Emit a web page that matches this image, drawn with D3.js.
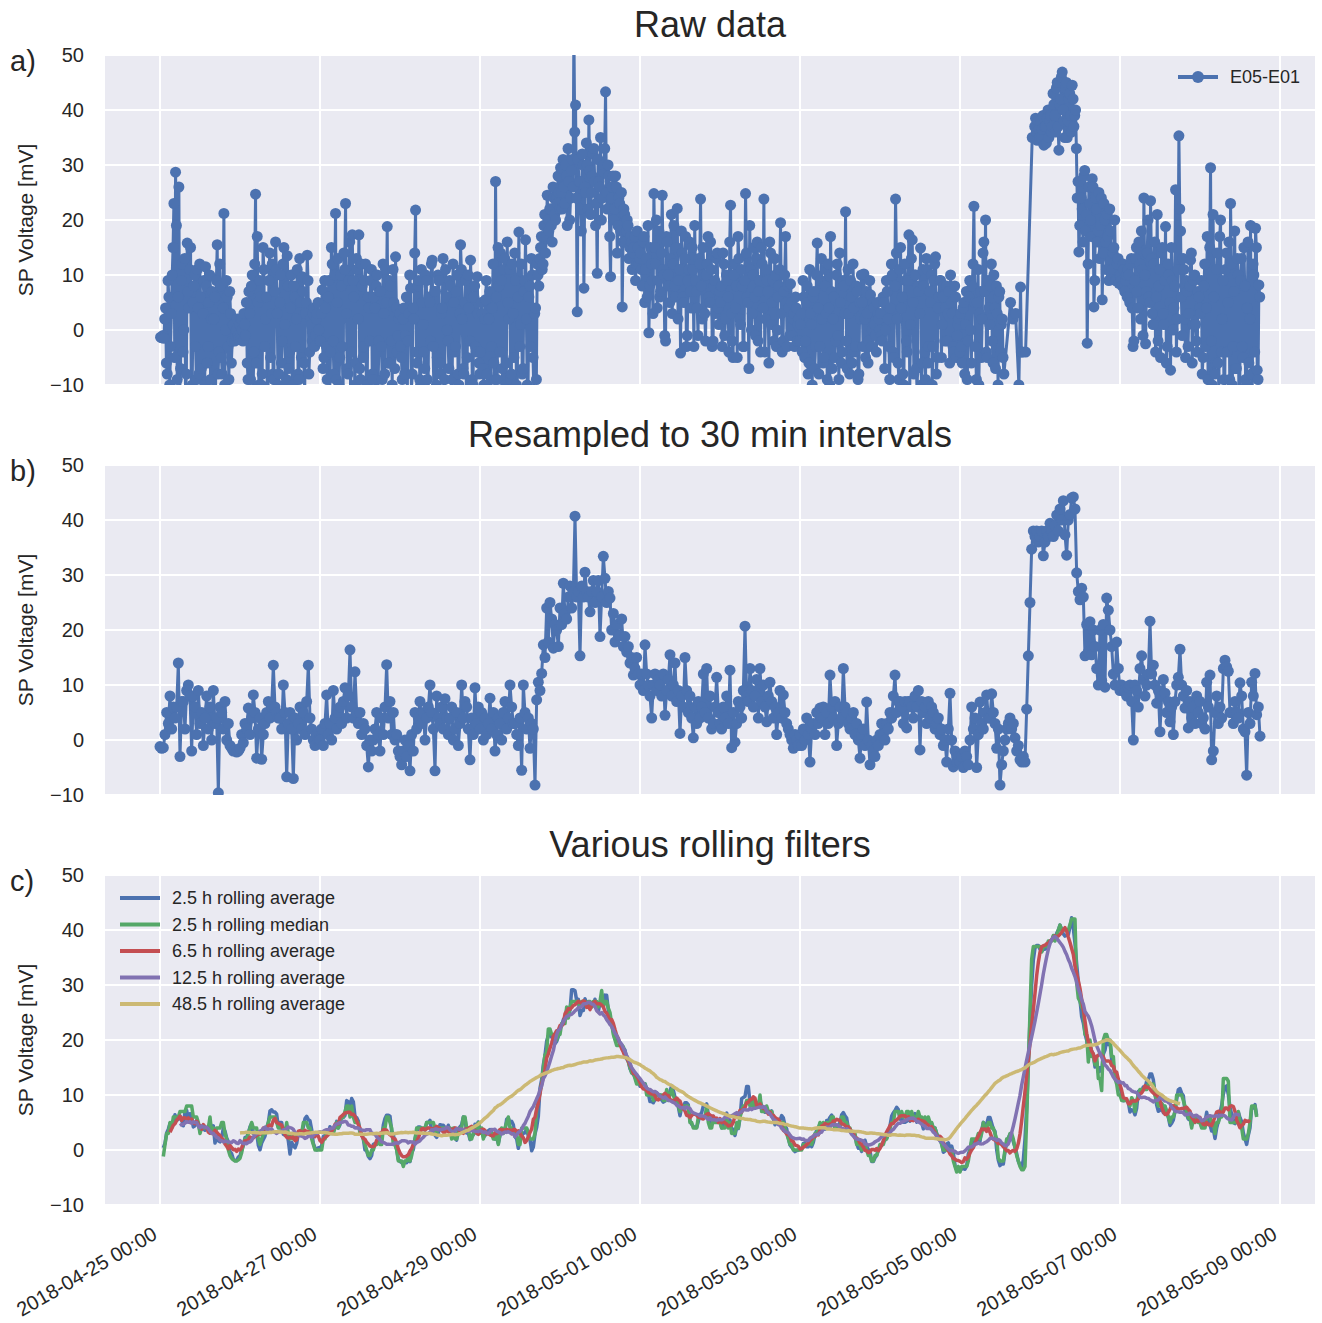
<!DOCTYPE html>
<html>
<head>
<meta charset="utf-8">
<script src="https://cdn.jsdelivr.net/npm/d3@7"></script>
<style>
  body { margin: 0; background: #fff; }
  text { font-family: "Liberation Sans", Arial, sans-serif; fill: #262626; }
</style>
</head>
<body>
<div id="chart"></div>
<script>
const svgWidth = 1322;
const svgHeight = 1323;
const margin = { left: 105, right: 7 };
const plotWidth = svgWidth - margin.left - margin.right;
const panelHeight = 330;
const panelTops = [55, 465, 875];

// chart text
const panelTitles = ["Raw data", "Resampled to 30 min intervals", "Various rolling filters"];
const panelLetters = ["a)", "b)", "c)"];
const yLabel = "SP Voltage [mV]";
const seriesName = "E05-E01";
const yTicks = [-10, 0, 10, 20, 30, 40, 50];
const xTickDates = ["2018-04-25", "2018-04-27", "2018-04-29", "2018-05-01",
  "2018-05-03", "2018-05-05", "2018-05-07", "2018-05-09"];

// raw logger readings at :10 / :40 (null = no reading)
const rawStart = "2018-04-25T00:10:00Z";
const rawValues = [
  -1.3,-1.2,-1.5,4,-8,6,-3,10,23,28.7, -9,26,-7,12,0,-12,15.8,4,15,-10, 8,-3,11,-8,6,-14,9,11.5,-6,5, -9,7,2,-11,15.5,-4,8,-8,21.2,0, 6,-9,3,-2,1,-1,2,-1.5,
  -1.8,0,3,-1,-6,7,-9,10,-4,24.7, 17,-10,6,-8,11,2,-11,9,-5,12, -9,16,3,-8,10,-2,15,-10,13.5,-7, 4,-12,8,-3,11,-9,5,9.7,-6,3, 13.6,-8,2,-2,4,-1,3,0,
  -2,7.3,-5,4,-9,9,-4,12,-8,21.2, 5,-10,10,-3,14,23,-7,9,-11,17.3, 6,-6,11,17.3,-9,8,-3,12,-10,4, 9,-8,6,-12,10,-2,7,-9,3,11, 18.8,-6,8,-10,5,13.3,-4,2,
  -3,-9,4,-1,-12,3,7.6,-8,2,21.8, -6,9,-10,5,-4,10,-9,6,-2,12.7, -11,7,-5,9,-8,4,-13,11,0,-7, 8,-9,5,-3,10,-10,15.5,2,-8,9, -5,4,12.7,-9,6,-3,9.7,-6,
  -4,3,-10,5.5,-8,2,-12,4,-6,27, -9,8,14,-7,11,-10,16,2,-9,12, -5,9,-11,17.8,1,-8,7,16.4,-10,6, -3,10,-12,4,12,8,15,11,19,14, 24.5,18,22,16,24,20,23,25,
  29.5,22,26,30,19,27,24,31,55,40.9, 3.3,27,22,32,7.6,25,30,38.2,21,28, 33,19,10.3,27,35,24,30,43.3,22,28, 9.7,26,20,28,14,24,18,4.2,22,16, 20,13,17,11,15,9,18,12,
  14,8,17,11,6,-0.5,15,9,24.8,12, 4,18,7,24.5,10,-2,16,8,13,3, 19,6,22.1,9,-4.2,14,5,17,-1,11, 7,15,-3,9,4,13,23.8,2,10,-2, 12,6,16,-3,8,3,14,1,
  5,-3,12,2,9,-4,22.7,-2,10,4, -5,13,1,8,-3,24.8,6,-7,11,3, 15,-1,16,7,-4,12,23.8,2,9,-6, 14,5,-2,10,0,8,19.5,-4,7,17, -3,4,8.4,-1,3,6,-2,2,
  1,-4,6,-2,8,-6,3,-10,7,-3, 15.8,-8,9,2,-5,11,-9,4,17,-7, 6,-2,12,-9,5,-4,8,21.5,-7,3, 9,-6,4,-3,7,-8,2,5,10.2,-5, 3,-2,6.4,0,4,-1,5,2,
  3,-2,5,0,7,-3,4,10,-5,23.8, 2,-9,15,6,-10,9,-4,17.3,1,16.4, -8,10,-12,7,14.9,-6,8,-9,11,-3, 5,-10,9,13.3,-5,6,9,1,8,4, -2,7,10,3,-4,6,-1,2,
  3,-6,5,1,-9,6,0,8,22.5,-3, 5,-10,7,2,16,20,-5,4,8,-2, 10,-7,3,6,-4,2,-8,null,null,null, 5,null,null,3,null,-10,7.8,-4,null,-4, null,null,null,35,null,38.5,34.5,36.5,
  38,36.5,33.6,37,38.5,35,39,37,41,36, 45,32.7,42,46.9,38,44,35,42,39,44.5, 37,40,24,14.2,27,22,28,18,-2.4,26, 20,27.5,4.2,24,16,25,19,5.5,23,16, 21,9,18,11,15,9,12,8.5,
  10,8,11,9,6,10,12,4,-2,13, 7,16,2,11,24,-2.5,14,6,23.5,3, 12,-4,21,8,-5,15,1,18.8,-3,10, -7.3,9,4,25.5,2,35.3,18,-1,11,-5, 7,3,12.7,-6,9,1,-4,6,
  3,-8,8,-3,17,-12,29.5,-10,6,-6, 14,-11,20,2,-9,11,-4,16,23,-10, 7,-7,13,-12,9,-3,15,-9,4,-6, 19,-11,10,18.5,-7.3,8.2
];

// raw logger readings at :25 / :55 (null = no reading)
const rawValuesLate = [
  -1.4,-1,2,-6,9,-10,3,15,-5,19, 6,-11,9,-4,13,-8,7,11,-12,5, 10,-9,4,12,-7,3,-10,8,-3,10, 2,-12,6,9,-8,12,-5,4,-10,9, -3,7,-6,1,-2,0,-1,1,
  2,-2,1,5,-9,3,8,-11,12,-6, 5,9,-10,15,-3,6,-12,14,3,-8, 7,11,-10,5,-6,12,1,-9,8,-4, 10,-10,6,2,-8,13,-5,7,-11,5, 9,-4,1,3,-3,2,5,-2,
  3,-7,9,-3,6,-11,15,-2,10,-9, 13,-5,8,-12,11,3,-8,16,-4,9, -10,13,2,-7,12,-5,9,-13,6,-2, 11,-9,4,8,-11,7,-3,12,-8,5, -6,9,-2,11,-7,4,-1,3,
  -5,2,-8,6,-2,10,-11,4,14,-4, 8,-9,11,1,-7,9,-12,5,12,-3, 7,-10,10,-6,3,13,-9,6,-2,9, -11,12,-4,7,-8,3,11,-7,5,-13, 10,-2,6,-10,8,-4,3,-8,
  5,-7,2,9,-11,7,-3,12,-9,6, 15,-4,9,-11,13,-6,5,11,-8,3, 14,-10,6,-3,12,-7,9,2,-11,8, 13,-5,3,-9,10,13,17,12,21,17, 20,22,19,26,21,24,28,22,
  25,31,23,28,33,20,29,26,36,24, 31,27,18,30,26,34,22,29,25,32, 27,23,31,26,20,29,33,25,30,17, 24,28,22,26,19,23,25,16,21,18, 19,15,16,14,17,12,15,13,
  11,16,5,13,19,8,12,3,15,20, 9,6,14,11,-1,17,10,5,21,12, 8,15,2,11,18,6,13,-3,9,16, 4,11,19,7,-1,12,8,15,3,10, 17,5,11,-2,9,13,4,7,
  8,14,-1,10,6,16,3,-5,12,8, 17,2,11,-3,9,14,5,19,0,10, 6,13,-2,9,15,4,-4,11,7,16, 1,9,13,-3,6,11,3,-2,10,5, 8,-1,5,2,-3,4,1,-2,
  3,9,-5,5,-8,11,1,6,-7,10, 4,-3,13,-6,8,3,12,-10,7,2, -5,10,-1,14,-6,9,3,-2,11,-8, 6,12,-4,8,-9,5,10,-3,2,7, -6,9,-3,5,1,-4,3,0,
  -1,6,-7,9,2,-9,12,-4,8,14, -6,11,4,-8,12,-2,9,-11,13,5, 10,-7,8,3,-10,11,-4,13,-6,7, 10,-3,12,-8,4,9,-5,6,-2,8, 3,-6,5,-3,8,-5,1,-4,
  -3,4,-8,7,-2,9,-6,12,5,-9, 11,3,-5,14,7,-4,9,1,12,-6, 4,8,-10,7,1,-5,null,null,null,null, null,2,null,null,null,null,-4,null,null,null, null,null,null,null,37,36,38,35,
  35,39,37,34,40,38,36,43,39,44, 37,41,46,40,35,45,38,43,36,42, 39,33,27,19,24,16,29,21,12,23, 17,26,9,22,18,13,24,14,20,11, 17,22,10,14,20,9,13,10,
  9,12,7,10,11,5,13,-3,9,15, 4,12,18,-1,10,7,20,5,13,1, 16,6,-2,11,14,3,9,-6,12,5, 15,0,8,-4,11,22,6,13,2,9, -3,8,14,1,10,-2,7,4,
  9,-5,12,4,-9,15,-2,21,-8,11, -6,17,-4,9,-11,14,5,-9,12,-3, 18,-7,10,-12,13,-5,8,-10,16,2, -8,12,-4,15,-9,6
];

// 30 min resampled series
const resampledStart = "2018-04-25T00:00:00Z";
const stepMinutes = 30;
const resampledValues = [
  -1.2,-1.5,-1.4,1,5,3,8,2,6,4, 6,14,-3,7,7,2,9,10,8,-2, 8,6,1,9,3,5,-1,4,8,2, 6,0,9,3,4,-9.6,6,5,2,7, 0,3,-1,-1.5,-2,-1.8,-2.2,-2,
  -1.5,1,-0.5,3,2,5.8,1,4,8.2,5, -3.3,2,4,-3.5,1,3,5,7,4,6, 13.6,6,5,4,4,2,10,5,-6.7,3, 5,2,-7,4,0,3,6,2,5,1, 7,13.6,4,2,0,-1,1,0,
  0,2,-1,3,8.2,1,3,0,9,4, 2,5,6,3,7,9.5,4,8,16.4,6, 4,12.4,5,3,5,1,3,2,-1,-4.9, 0,-2,0,2,5,1,-2,4,1,6, 13.7,4,7,1,5,0,1,-2,
  -3,-4.5,-2,0,-3,-1,-5.6,1,-2,5, 2,4,7,3,5,0,4,6,10,5, 2,-5.6,8,4,3,6,2,7.5,4,1, 4,6,0,2,5,-1,3,10,4,7, 6,2,-3.6,4,1,9.5,3,6,
  2,5,0,4,1,3,7.6,2,5,-2, 1,4,3,0,5,7,2,4,10,6, 3,3,1,-1,4,-5.5,10,5,2,4, -1.5,3,2,-8.2,7.3,10.5,9,12.1,17.3,15, 24,17.8,25,22,16.7,21,20,17,
  24,21,28.5,23,22,26,28,24,27,40.7, 26,27,15.3,28,26,30.5,27,26,23.3,27, 29,25,27,29,18.8,26,33.4,29.4,25,27, 25.8,20,23,17.8,21,19,19,22,17,18.8, 16,17,14,15,11.8,13,15,12,
  10,12,9,17.3,12,10,8,4,10,12, 9,11,10,8,12,4.5,9,11,15.5,8, 10,14,7,9,1.2,8,6,15,9,5, 8,4,0.4,6,3,7,4,6,12,5, 13,4,8,2,3,6,11.4,5,
  3,2,6,4,8,3,12.7,-1.4,5,-0.4, 3,7,6,4,9,20.7,8,7,13,9, 6,8,11,4,13,7,10,6,3.3,8, 10.5,7,4,6,1,5,9,4,8.2,5, 3,2,1,0,-1.5,1,0,-1,
  1,-1,2,0,4,1,-4,2,3,1, 5,3,5.8,4,6,1,5,3,11.8,6, 4,7,-1,3,6,4,13,6,5,3, 2,4,5,1,3,0,-3.3,1,2,-1, 6.9,0,-4.5,-1,-2,-3,0,-1,
  1,3,1,0,3,2,5,4,8,11.8, 5,7,7,6,3,7,2.2,7,7,6, 4,8,6,9,-1.8,7,5,6,3,7, 4,6,5,2,3,4,1,2,-1,0, -4,2,8.5,0,-4.9,-2,-4,-3,
  -4,-3,-5,-2,-3,-4.5,0,6,2,4, -5,1,6.9,3,2,5,8.2,4,4,8.4, 5,3,-1.5,2,-8.2,-4.5,-2,0,2,3, 4,2,3,0.4,-2,-1,-3.6,-4,-3,-4, 5.6,15.3,25,34.7,38,37,38,36,
  37,38,33.5,36,38,37,39.4,38,37,39, 40.9,38,42,40,43.5,37.3,33.6,40,41,44, 44.2,42,30.4,27,25.5,27.6,26,15.3,21,16, 21.5,15.5,20,17,13,10,20,10.8,21,9.6, 25.8,23.6,20,17,12,10,17.8,13,
  9,10,9,8.7,8,9.5,10,7,0,10, 9,6,13,15.3,11,8,10,12,21.6,12, 13.6,10,6.7,9,1.5,8,11,8.5,5,7, 3.3,6,1,7,10,11.4,16.5,10,8,5.8, 9,2.2,7,4,6,3,8,5,
  7,3,4,2,10.5,6,11.8,-3.6,-2,5, 8,3,6,4,13,14.5,13.3,12.5,5,5, 3,7,5,4,10.4,8,2,1.5,-6.4,5, 3,10.5,8,12.1,4.6,6,0.7
];

// rolling filters (window in 30 min samples, centred)
const filterLabels = ["2.5 h rolling average", "2.5 h rolling median", "6.5 h rolling average",
  "12.5 h rolling average", "48.5 h rolling average"];
const filterWindows = [5, 5, 13, 25, 97];
const filterKinds = ["mean", "median", "mean", "mean", "mean"];
const filterColors = ["#4C72B0", "#55A868", "#C44E52", "#8172B2", "#CCB974"];
const seriesColor = "#4C72B0";

const stepMs = stepMinutes * 60 * 1000;
const rawT0 = Date.parse(rawStart);
const rawPoints = rawValues
  .flatMap((v, i) => [
    { t: new Date(rawT0 + i * stepMs), v: v },
    { t: new Date(rawT0 + i * stepMs + stepMs / 2), v: rawValuesLate[i] }
  ])
  .filter(d => d.v !== null && d.v !== undefined);
const resampledPoints = resampledValues
  .map((v, i) => ({ t: new Date(Date.parse(resampledStart) + i * stepMs), v: v }));

function rollingFilter(values, w, kind) {
  const h = (w - 1) / 2;
  return values.map((v, i) => {
    if (i - h < 0 || i + h >= values.length) return null;
    const win = values.slice(i - h, i + h + 1);
    return kind === "median" ? d3.median(win) : d3.mean(win);
  });
}

const svg = d3.select("#chart")
  .append("svg")
  .attr("width", svgWidth)
  .attr("height", svgHeight);

svg.append("rect").attr("width", svgWidth).attr("height", svgHeight).attr("fill", "#fff");

const x = d3.scaleUtc()
  .domain([new Date("2018-04-24T07:30:00Z"), new Date("2018-05-09T10:30:00Z")])
  .range([0, plotWidth]);

const y = d3.scaleLinear()
  .domain([-10, 50])
  .range([panelHeight, 0]);

const tickDates = xTickDates.map(s => new Date(s + "T00:00:00Z"));

const line = d3.line()
  .defined(d => d.v !== null)
  .x(d => x(d.t))
  .y(d => y(d.v));

// one panel: background, grid, y axis, titles
function drawPanel(idx) {
  const top = panelTops[idx];
  const g = svg.append("g").attr("transform", `translate(${margin.left}, ${top})`);

  svg.append("clipPath").attr("id", `clip${idx}`)
    .append("rect").attr("width", plotWidth).attr("height", panelHeight);

  g.append("rect")
    .attr("width", plotWidth)
    .attr("height", panelHeight)
    .attr("fill", "#EAEAF2");

  g.selectAll(".hgrid")
    .data(yTicks)
    .enter()
    .append("line")
    .attr("x1", 0).attr("x2", plotWidth)
    .attr("y1", d => y(d)).attr("y2", d => y(d))
    .attr("stroke", "#fff").attr("stroke-width", 2);

  g.selectAll(".vgrid")
    .data(tickDates.filter(d => x(d) <= plotWidth))
    .enter()
    .append("line")
    .attr("x1", d => x(d)).attr("x2", d => x(d))
    .attr("y1", 0).attr("y2", panelHeight)
    .attr("stroke", "#fff").attr("stroke-width", 2);

  const leftAxis = d3.axisLeft(y).tickValues(yTicks).tickSize(0).tickPadding(21);
  const ya = g.append("g").call(leftAxis);
  ya.select(".domain").remove();
  ya.selectAll("text").attr("font-size", "20px").attr("fill", "#262626")
    .style("font-family", "'Liberation Sans', Arial, sans-serif");

  svg.append("text")
    .attr("x", margin.left + plotWidth / 2)
    .attr("y", top - 18)
    .attr("text-anchor", "middle")
    .attr("font-size", "36px")
    .text(panelTitles[idx]);

  svg.append("text")
    .attr("x", 10)
    .attr("y", top + 16)
    .attr("font-size", "29px")
    .text(panelLetters[idx]);

  svg.append("text")
    .attr("transform", `translate(33, ${top + panelHeight / 2}) rotate(-90)`)
    .attr("text-anchor", "middle")
    .attr("font-size", "21px")
    .text(yLabel);

  const plot = g.append("g").attr("clip-path", `url(#clip${idx})`);
  return { g, plot };
}

// a) raw data
const pa = drawPanel(0);
pa.plot.append("path")
  .datum(rawPoints)
  .attr("d", line)
  .attr("fill", "none")
  .attr("stroke", seriesColor)
  .attr("stroke-width", 3)
  .attr("stroke-linejoin", "round");
pa.plot.selectAll("circle")
  .data(rawPoints)
  .enter()
  .append("circle")
  .attr("cx", d => x(d.t))
  .attr("cy", d => y(d.v))
  .attr("r", 5.5)
  .attr("fill", seriesColor);

const legA = svg.append("g").attr("transform", "translate(1178, 77)");
legA.append("line").attr("x1", 0).attr("x2", 40)
  .attr("stroke", seriesColor).attr("stroke-width", 4);
legA.append("circle").attr("cx", 20).attr("r", 6).attr("fill", seriesColor);
legA.append("text").attr("x", 52).attr("dy", "0.35em").attr("font-size", "18px").text(seriesName);

// b) resampled
const pb = drawPanel(1);
pb.plot.append("path")
  .datum(resampledPoints)
  .attr("d", line)
  .attr("fill", "none")
  .attr("stroke", seriesColor)
  .attr("stroke-width", 3)
  .attr("stroke-linejoin", "round");
pb.plot.selectAll("circle")
  .data(resampledPoints)
  .enter()
  .append("circle")
  .attr("cx", d => x(d.t))
  .attr("cy", d => y(d.v))
  .attr("r", 5.5)
  .attr("fill", seriesColor);

// c) rolling filters
const pc = drawPanel(2);
filterLabels.forEach((label, k) => {
  const vals = rollingFilter(resampledValues, filterWindows[k], filterKinds[k]);
  const pts = vals.map((v, i) => ({ t: resampledPoints[i].t, v: v }));
  pc.plot.append("path")
    .datum(pts)
    .attr("d", line)
    .attr("fill", "none")
    .attr("stroke", filterColors[k])
    .attr("stroke-width", 3.5)
    .attr("stroke-linejoin", "round");
});

const legC = svg.append("g").attr("transform", "translate(120, 898)");
filterLabels.forEach((label, k) => {
  const row = legC.append("g").attr("transform", `translate(0, ${k * 26.5})`);
  row.append("line").attr("x1", 0).attr("x2", 40)
    .attr("stroke", filterColors[k]).attr("stroke-width", 4);
  row.append("text").attr("x", 52).attr("dy", "0.35em").attr("font-size", "18px").text(label);
});

// shared x axis under the last panel
const bottomAxis = d3.axisBottom(x)
  .tickValues(tickDates)
  .tickFormat(d3.utcFormat("%Y-%m-%d %H:%M"))
  .tickSize(0);
const xa = pc.g.append("g")
  .attr("transform", `translate(0, ${panelHeight})`)
  .call(bottomAxis);
xa.select(".domain").remove();
xa.selectAll("text")
  .attr("x", 0).attr("y", 0).attr("dy", 0)
  .attr("text-anchor", "end")
  .attr("transform", "translate(-2, 33) rotate(-30)")
  .attr("font-size", "20px")
  .attr("fill", "#262626")
  .style("font-family", "'Liberation Sans', Arial, sans-serif");
</script>
</body>
</html>
